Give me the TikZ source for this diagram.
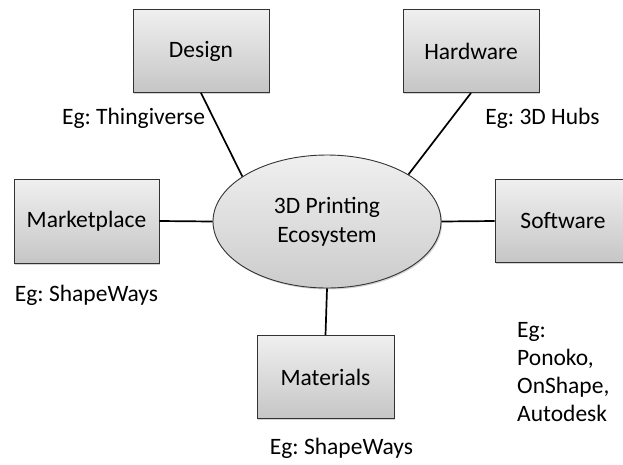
\documentclass[tikz,border=0pt]{standalone}
\usepackage{fontspec}
\setmainfont{Carlito}
\usepackage{tikz}
\usetikzlibrary{shapes.geometric,shadows}
\frenchspacing
\tikzstyle{part}=[rectangle, draw=black!80, line width=0.9pt, top color=gray!12, bottom color=gray!45, drop shadow={opacity=0.35, shadow xshift=1.2pt, shadow yshift=-1.5pt}, minimum width=136pt, minimum height=83pt, inner sep=0pt]
\tikzstyle{hub}=[ellipse, draw=black!80, line width=0.9pt, top color=gray!12, bottom color=gray!40, drop shadow={opacity=0.35, shadow xshift=1.2pt, shadow yshift=-1.5pt}, minimum width=228pt, minimum height=133pt, inner sep=0pt, align=center]
\tikzstyle{note}=[inner sep=0pt, align=left]
\tikzstyle{link}=[draw=black, line width=1.7pt]

\begin{document}
\begin{tikzpicture}[x=1pt, y=-1pt, font=\fontsize{23.5}{29}\selectfont]
	\useasboundingbox (0,0) rectangle (623,464);
	\begin{scope}
		\node (eco) at (327, 221.5) [hub] {3D Printing\\Ecosystem};
		\node (design) at (201, 51) [part] {Design};
		\node (hard) at (471, 51) [part] {Hardware};
		\node (market) at (86.5, 221) [part, minimum width=145pt, minimum height=84pt] {Marketplace};
		\node (soft) at (563, 221) [part] {Software};
		\node (mat) at (325.5, 377) [part, minimum width=137pt] {Materials};

		\node (design eg) at (133.5, 118) [note] {Eg: Thingiverse};
		\node (hard eg) at (542.5, 118) [note] {Eg: 3D Hubs};
		\node (market eg) at (86.5, 295) [note] {Eg: ShapeWays};
		\node (soft eg) at (517, 372) [note, anchor=west, font=\fontsize{23.5}{28}\selectfont] {Eg:\\Ponoko,\\OnShape,\\Autodesk};
		\node (mat eg) at (341.5, 448) [note] {Eg: ShapeWays};
	\end{scope}
	\begin{scope}
		\path [link] (design.south) -- (eco.152);
		\path [link] (hard.south) -- (eco.30);
		\path [link] (market.east) -- (eco.west);
		\path [link] (soft.west) -- (eco.east);
		\path [link] (mat.north) -- (eco.south);
	\end{scope}
\end{tikzpicture}
\end{document}
